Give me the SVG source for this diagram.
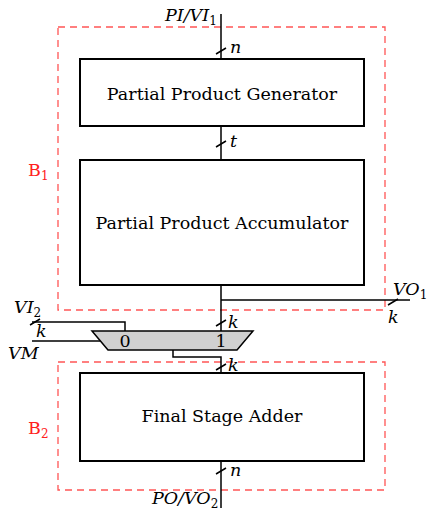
<svg xmlns="http://www.w3.org/2000/svg" width="427" height="512" viewBox="0 0 427 512">
<style>
.blk{fill:#fff;stroke:#000;stroke-width:2}
.grp{fill:none;stroke:#ff5555;stroke-width:1.3;stroke-dasharray:7,5}
.w{fill:none;stroke:#000;stroke-width:1.5}
.t{font-family:"DejaVu Serif",serif;font-size:17.5px;fill:#000}
.i{font-style:italic}
.r{fill:#ff2020}
</style>
<rect width="427" height="512" fill="#fff"/>
<g id="B1"><rect class="grp" x="58" y="27" width="327" height="283"/><text class="t r" x="28" y="176">B<tspan font-size="12" dy="4">1</tspan></text></g>
<g id="B2"><rect class="grp" x="58" y="362" width="327" height="128"/><text class="t r" x="28" y="434">B<tspan font-size="12" dy="4">2</tspan></text></g>
<g id="connectors">
<path class="w" d="M221 14V59M221 126V160M221 285V331M221 300H410M173 350V357H221V373M221 461V508M32 322H125V331M32 341H100"/>
<path class="w" stroke-width="1" d="M216 54L226 48M216 147L226 141M216 326L226 320M216 370L226 364M216 474L226 468M388 305L398 299M30 325L40 319"/>
</g>
<g id="ppg"><rect class="blk" x="80" y="59" width="284" height="67"/><text class="t" x="222" y="100" text-anchor="middle">Partial Product Generator</text></g>
<g id="ppa"><rect class="blk" x="80" y="160" width="284" height="125"/><text class="t" x="222" y="229" text-anchor="middle">Partial Product Accumulator</text></g>
<g id="fsa"><rect class="blk" x="80" y="373" width="284" height="88"/><text class="t" x="222" y="422" text-anchor="middle">Final Stage Adder</text></g>
<g id="mux"><polygon points="92,331 253,331 237,350 108,350" fill="#d0d0d0" stroke="#000" stroke-width="1.5"/><text class="t" x="125" y="347" text-anchor="middle">0</text><text class="t" x="221" y="347" text-anchor="middle">1</text></g>
<g id="labels">
<text class="t i" x="165" y="21">PI/VI<tspan font-style="normal" font-size="12" dy="4">1</tspan></text>
<text class="t i" x="230" y="53">n</text>
<text class="t i" x="230" y="147">t</text>
<text class="t i" x="228" y="328">k</text>
<text class="t i" x="228" y="371">k</text>
<text class="t i" x="230" y="476">n</text>
<text class="t i" x="393" y="295">VO<tspan font-style="normal" font-size="12" dy="4">1</tspan></text>
<text class="t i" x="388" y="323">k</text>
<text class="t i" x="14" y="313">VI<tspan font-style="normal" font-size="12" dy="4">2</tspan></text>
<text class="t i" x="36" y="337">k</text>
<text class="t i" x="8" y="359">VM</text>
<text class="t i" x="152" y="504">PO/VO<tspan font-style="normal" font-size="12" dy="4">2</tspan></text>
</g>
</svg>
